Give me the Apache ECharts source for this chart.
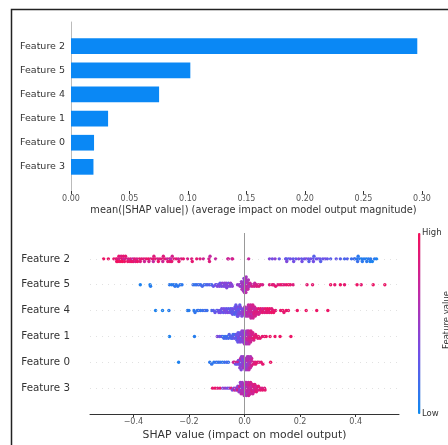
<!DOCTYPE html>
<html><head><meta charset="utf-8">
<script src="https://cdn.jsdelivr.net/npm/echarts@6/dist/echarts.min.js"></script>
<style>html,body{margin:0;padding:0;background:#fff}#c{width:448px;height:445px}</style>
</head><body><div id="c"></div>
<script>
// ---- data ----
const features = ['Feature 2','Feature 5','Feature 4','Feature 1','Feature 0','Feature 3'];
const meanAbsShap = [0.296, 0.102, 0.0753, 0.0317, 0.0197, 0.0192];
const barTicks = [0, 0.05, 0.10, 0.15, 0.20, 0.25, 0.30];
const shapTicks = [-0.4, -0.2, 0, 0.2, 0.4];
// [shap value, normalized feature value]
const shapF2 = [[-0.507,.95],[-0.49,.95],[-0.47,.9],[-0.462,.95],[-0.46,.9],[-0.458,.85],[-0.456,1],[-0.452,.9],[-0.45,.8],[-0.448,.95],
[-0.444,.85],[-0.442,.9],[-0.44,1],[-0.436,.9],[-0.434,.75],[-0.432,.95],[-0.428,.9],[-0.425,.85],[-0.42,.95],[-0.418,.8],
[-0.412,.9],[-0.41,.85],[-0.405,.95],[-0.402,.7],[-0.4,.9],[-0.395,.9],[-0.392,.85],[-0.387,.8],[-0.385,.95],[-0.378,.9],
[-0.375,.85],[-0.37,.9],[-0.362,.85],[-0.36,.75],[-0.354,.9],[-0.346,.95],[-0.344,.8],[-0.338,.85],[-0.33,.9],[-0.328,.7],
[-0.326,.85],[-0.32,.9],[-0.312,.8],[-0.31,.95],[-0.304,.85],[-0.296,.9],[-0.294,.75],[-0.292,.85],[-0.286,.9],[-0.278,.7],
[-0.276,.9],[-0.27,.85],[-0.268,.9],[-0.266,.65],[-0.262,.9],[-0.26,.8],[-0.254,.85],[-0.246,.9],[-0.238,.75],[-0.236,.9],
[-0.228,.85],[-0.22,.9],[-0.205,.8],[-0.19,.85],[-0.188,.9],[-0.172,.9],[-0.16,.85],[-0.148,.75],[-0.128,.8],[-0.126,.85],
[-0.124,.7],[-0.104,.7],[-0.06,.7],[-0.058,.75],[-0.045,.65],[-0.043,.8],[0.015,.7],
[0.09,.4],[0.1,.35],[0.11,.45],[0.125,.3],[0.148,.35],[0.15,.3],[0.152,.4],[0.158,.25],[0.165,.35],[0.175,.3],[0.177,.35],
[0.185,.3],[0.195,.4],[0.205,.3],[0.207,.35],[0.215,.3],[0.222,.4],[0.23,.3],[0.232,.25],[0.238,.35],[0.246,.3],[0.248,.35],
[0.25,.25],[0.258,.3],[0.265,.35],[0.272,.3],[0.274,.25],[0.282,.3],[0.29,.35],[0.298,.3],[0.31,.25],[0.33,.3],[0.345,.25],
[0.36,.2],[0.37,.25],[0.385,.15],[0.395,.2],[0.397,.15],[0.405,.1],[0.407,.15],[0.409,.1],[0.415,.1],[0.422,.05],[0.424,.1],
[0.43,.1],[0.438,.05],[0.44,.1],[0.446,.1],[0.452,.05],[0.454,.1],[0.46,.05],[0.468,.1],[0.475,.05]];
const shapF5 = [[-0.375,.05],[-0.34,.05],[-0.338,.08],[-0.27,.1],[-0.262,.08],[-0.255,.1],[-0.25,.12],[-0.246,.1],[-0.24,.1],[-0.232,.12],
[-0.225,.1],[-0.185,.15],[-0.178,.12],[-0.172,.15],[-0.165,.18],[-0.158,.15],[-0.152,.2],[-0.145,.18],[-0.138,.2],[-0.132,.22],
[-0.125,.25],[-0.118,.2],[-0.112,.3],[-0.104,.35],[-0.1,.3],[-0.098,.4],[-0.092,.35],[-0.09,.4],[-0.088,.3],[-0.084,.4],
[-0.082,.35],[-0.08,.45],[-0.078,.4],[-0.074,.4],[-0.072,.45],[-0.07,.35],[-0.068,.4],[-0.066,.45],[-0.064,.4],[-0.062,.45],
[-0.06,.4],[-0.058,.35],[-0.055,.45],[-0.052,.4],[-0.05,.5],[-0.046,.4],[-0.044,.45],[-0.025,.5],[-0.018,.5],[-0.016,.55],
[-0.014,.45],[-0.01,.5],[-0.009,.55],[-0.008,.45],[-0.007,.6],[-0.006,.5],[-0.005,.55],[-0.003,.55],[-0.002,.5],[-0.001,.6],
[0,.45],[0.001,.55],[0.002,.65],[0.003,.5],[0.004,.6],[0.005,.55],[0.006,.65],[0.007,.5],[0.01,.6],[0.011,.7],[0.012,.55],
[0.013,.65],[0.017,.7],[0.018,.6],[0.02,.75],[0.025,.7],[0.027,.8],[0.033,.75],[0.035,.8],[0.037,.7],[0.042,.8],[0.044,.85],
[0.05,.8],[0.052,.85],[0.058,.85],[0.065,.8],[0.09,.85],[0.1,.9],[0.105,.85],[0.112,.9],[0.12,.85],[0.128,.9],[0.135,.9],
[0.142,.85],[0.15,.9],[0.158,.95],[0.165,.9],[0.175,.85],[0.225,.9],[0.245,.9],[0.31,.95],[0.325,.9],[0.345,.95],[0.36,.9],
[0.405,.95],[0.42,.9],[0.463,.95],[0.505,.95],
[-0.011,.5],[-0.009,.6],[-0.004,.55],[-0.002,.45],[0,.6],[0.001,.5],[0.003,.6],[0.005,.65],[0.006,.55],[0.009,.6],[0.012,.7],[0.014,.6]];
const shapF4 = [[-0.32,.05],[-0.295,.05],[-0.272,.08],[-0.205,.1],[-0.2,.08],[-0.182,.1],[-0.178,.12],[-0.17,.1],[-0.165,.15],[-0.158,.12],
[-0.15,.15],[-0.142,.18],[-0.135,.15],[-0.118,.2],[-0.112,.25],[-0.106,.3],[-0.1,.25],[-0.096,.3],[-0.092,.35],[-0.088,.3],
[-0.086,.35],[-0.082,.35],[-0.08,.3],[-0.076,.3],[-0.074,.35],[-0.072,.4],[-0.068,.35],[-0.066,.3],[-0.062,.35],[-0.06,.4],
[-0.058,.3],[-0.054,.3],[-0.052,.35],[-0.05,.25],[-0.046,.3],[-0.045,.25],[-0.044,.35],[-0.043,.3],[-0.038,.25],[-0.037,.3],
[-0.036,.35],[-0.035,.2],[-0.034,.3],[-0.03,.3],[-0.029,.25],[-0.028,.35],[-0.027,.3],[-0.026,.4],[-0.025,.25],[-0.022,.3],
[-0.021,.35],[-0.02,.25],[-0.019,.4],[-0.018,.3],[-0.014,.35],[-0.013,.4],[-0.012,.3],[-0.011,.45],[-0.006,.45],[-0.005,.5],
[-0.004,.4],[0.002,.5],[0.003,.6],[0.004,.55],[0.008,.6],[0.009,.65],[0.01,.55],[0.011,.7],[0.012,.6],[0.016,.65],[0.017,.7],
[0.018,.75],[0.019,.6],[0.02,.7],[0.021,.8],[0.024,.7],[0.025,.75],[0.026,.8],[0.027,.65],[0.028,.75],[0.029,.7],[0.032,.75],
[0.033,.8],[0.034,.7],[0.035,.85],[0.036,.75],[0.04,.8],[0.041,.85],[0.042,.75],[0.043,.8],[0.048,.8],[0.049,.85],[0.05,.9],
[0.051,.8],[0.056,.85],[0.057,.8],[0.058,.9],[0.064,.85],[0.065,.9],[0.066,.8],[0.072,.9],[0.073,.85],[0.074,.9],[0.08,.85],
[0.081,.9],[0.082,.95],[0.088,.9],[0.089,.85],[0.09,.95],[0.096,.9],[0.097,.95],[0.098,.85],[0.104,.9],[0.105,.95],[0.112,.9],
[0.13,.9],[0.138,.95],[0.142,.9],[0.15,.95],[0.158,.9],[0.19,.95],[0.222,.95],[0.26,.95],[0.3,.95],
[-0.031,.3],[-0.024,.35],[-0.017,.3],[-0.015,.4],[-0.009,.4],[-0.002,.5],[0,.55],[0.001,.6],[0.006,.6],[0.013,.65],[0.014,.7],
[0.022,.75],[0.023,.7],[0.03,.8],[0.031,.75],[0.038,.8]];
const shapF1 = [[-0.27,.05],[-0.18,.08],[-0.098,.4],[-0.09,.35],[-0.084,.3],[-0.078,.15],[-0.074,.2],[-0.07,.15],[-0.066,.2],[-0.062,.15],
[-0.058,.2],[-0.055,.25],[-0.052,.2],[-0.048,.2],[-0.046,.25],[-0.043,.25],[-0.041,.2],[-0.038,.25],[-0.036,.3],[-0.034,.2],
[-0.03,.3],[-0.029,.25],[-0.028,.35],[-0.027,.3],[-0.023,.3],[-0.022,.35],[-0.021,.4],[-0.02,.3],[-0.019,.35],[-0.015,.35],
[-0.014,.4],[-0.013,.3],[-0.012,.45],[-0.011,.35],[-0.01,.4],[-0.007,.4],[-0.006,.45],[-0.005,.5],[-0.004,.4],[-0.003,.45],
[-0.002,.5],[0.001,.5],[0.002,.55],[0.003,.6],[0.004,.5],[0.005,.65],[0.006,.55],[0.007,.6],[0.009,.6],[0.01,.65],[0.011,.7],
[0.012,.6],[0.013,.75],[0.014,.7],[0.017,.7],[0.018,.75],[0.019,.8],[0.02,.7],[0.021,.75],[0.025,.8],[0.026,.75],[0.027,.85],
[0.028,.8],[0.033,.8],[0.034,.85],[0.035,.9],[0.04,.85],[0.042,.9],[0.048,.85],[0.05,.9],[0.056,.9],[0.064,.9],[0.072,.9],
[0.078,.95],[0.092,.95],[0.11,.95],[0.128,.95],[0.167,.95],
[-0.024,.3],[-0.016,.4],[-0.009,.45],[-0.001,.5],[0,.55],[0.008,.6],[0.015,.7],[0.016,.65],[0.022,.75],[0.023,.8],[0.03,.8]];
const shapF0 = [[-0.237,.05],[-0.125,.1],[-0.118,.12],[-0.11,.1],[-0.102,.15],[-0.095,.12],[-0.088,.15],[-0.08,.1],[-0.072,.15],[-0.064,.2],
[-0.058,.15],[-0.04,.7],[-0.036,.8],[-0.032,.3],[-0.028,.75],[-0.026,.35],[-0.022,.4],[-0.021,.8],[-0.02,.35],[-0.016,.4],
[-0.015,.45],[-0.014,.7],[-0.013,.35],[-0.01,.4],[-0.009,.5],[-0.008,.45],[-0.007,.35],[-0.006,.55],[-0.004,.45],[-0.003,.5],
[-0.002,.4],[-0.001,.55],[0,.45],[0.001,.5],[0.003,.5],[0.004,.45],[0.005,.55],[0.006,.4],[0.007,.6],[0.008,.5],[0.01,.55],
[0.011,.6],[0.012,.5],[0.013,.65],[0.014,.55],[0.017,.6],[0.018,.7],[0.019,.55],[0.02,.65],[0.024,.7],[0.025,.8],[0.026,.75],
[0.031,.8],[0.032,.85],[0.038,.85],[0.04,.9],[0.046,.9],[0.052,.85],[0.06,.9],[0.066,.9],[0.094,.95],
[-0.011,.45],[-0.005,.5],[0.002,.5],[0.009,.55],[0.015,.6],[0.016,.65],[0.021,.7],[0.022,.6],[-0.012,.4],[-0.017,.45]];
const shapF3 = [[-0.115,.9],[-0.106,.95],[-0.097,.85],[-0.088,.9],[-0.078,.4],[-0.07,.5],[-0.062,.35],[-0.055,.45],[-0.048,.85],[-0.044,.4],
[-0.038,.45],[-0.036,.8],[-0.032,.5],[-0.03,.4],[-0.026,.55],[-0.025,.85],[-0.024,.45],[-0.02,.5],[-0.019,.6],[-0.018,.45],
[-0.017,.8],[-0.014,.55],[-0.013,.5],[-0.012,.65],[-0.011,.45],[-0.01,.6],[-0.007,.5],[-0.006,.6],[-0.005,.55],[-0.004,.65],
[-0.003,.45],[-0.002,.6],[0,.6],[0.001,.55],[0.002,.7],[0.003,.5],[0.004,.65],[0.005,.6],[0.008,.65],[0.009,.6],[0.01,.7],
[0.011,.75],[0.012,.65],[0.013,.7],[0.016,.7],[0.017,.75],[0.018,.65],[0.019,.8],[0.02,.7],[0.024,.75],[0.025,.8],[0.026,.7],
[0.027,.85],[0.028,.75],[0.032,.8],[0.033,.75],[0.034,.85],[0.035,.8],[0.04,.8],[0.041,.85],[0.042,.75],[0.043,.9],[0.048,.85],
[0.049,.8],[0.05,.9],[0.056,.85],[0.057,.9],[0.063,.8],[0.065,.9],[0.072,.85],[0.074,.9],
[-0.008,.55],[-0.001,.6],[0.006,.65],[0.007,.6],[0.014,.7],[0.015,.75],[0.021,.75],[0.022,.8],[0.029,.8],[0.03,.75],[0.037,.85],[-0.015,.5]];
const shapRows = [shapF2, shapF5, shapF4, shapF1, shapF0, shapF3];

// ---- beeswarm layout (shap-style binning) ----
function swarm(vals, row) {
  const xs = vals.map(v => v[0]);
  const mn = Math.min(...xs);
  const bw = 0.008;
  const q = xs.map(x => Math.floor((x - mn) / bw + 1e-9));
  const idx = xs.map((_, i) => i).sort((a, b) => q[a] - q[b] || a - b);
  const ys = new Array(xs.length).fill(0);
  let layer = 0, last = -1;
  for (const i of idx) {
    if (q[i] !== last) layer = 0;
    ys[i] = Math.ceil(layer / 2) * ((layer % 2) * 2 - 1);
    layer++; last = q[i];
  }
  const m = Math.max(...ys);
  const s = Math.min(0.9 * 0.4 / (m + 1), 0.1);
  return vals.map((v, i) => [v[0], row + ys[i] * s, v[1]]);
}
const swarmData = [];
shapRows.forEach((r, i) => swarmData.push(...swarm(r, i)));

const barCats = [''].concat(features, ['']);
const barVals = ['-'].concat(meanAbsShap, ['-']);
const FONT = 'DejaVu Sans';

const chart = echarts.init(document.getElementById('c'), null, {renderer: 'canvas'});
chart.setOption({
  animation: false,
  backgroundColor: '#fff',
  textStyle: {fontFamily: FONT},
  grid: [
    {left: 71, right: 12, top: 22, bottom: 254},
    {left: 90, right: 49, top: 233, bottom: 31}
  ],
  xAxis: [
    {gridIndex: 0, type: 'value', min: 0, max: 0.312,
     axisLine: {onZero: false, lineStyle: {color: '#333', width: 1}},
     axisTick: {show: true, length: 3, lineStyle: {color: '#333'}, customValues: barTicks},
     axisLabel: {fontFamily: FONT, fontSize: 8, color: '#555', margin: 4, customValues: barTicks,
                 formatter: v => v.toFixed(2)},
     splitLine: {show: false},
     name: 'mean(|SHAP value|) (average impact on model output magnitude)',
     nameLocation: 'middle', nameGap: 14,
     nameTextStyle: {fontFamily: FONT, fontSize: 9.8, color: '#333'}},
    {gridIndex: 1, type: 'value', min: -0.556, max: 0.556,
     axisLine: {onZero: false, lineStyle: {color: '#333', width: 1}},
     axisTick: {show: true, length: 3, lineStyle: {color: '#333'}, customValues: shapTicks},
     axisLabel: {fontFamily: FONT, fontSize: 8, color: '#555', margin: 4, customValues: shapTicks,
                 formatter: v => (v < 0 ? '\u2212' : '') + Math.abs(v).toFixed(1)},
     splitLine: {show: false},
     name: 'SHAP value (impact on model output)',
     nameLocation: 'middle', nameGap: 16,
     nameTextStyle: {fontFamily: FONT, fontSize: 10.8, color: '#333'}}
  ],
  yAxis: [
    {gridIndex: 0, type: 'category', data: barCats, inverse: true, boundaryGap: false,
     axisLine: {lineStyle: {color: '#bbb', width: 1}},
     axisTick: {show: false},
     axisLabel: {fontFamily: FONT, fontSize: 9.5, color: '#333', margin: 6}},
    {gridIndex: 1, type: 'value', min: -1, max: 6, interval: 1, inverse: true,
     axisLine: {show: false}, axisTick: {show: false}, splitLine: {show: false},
     axisLabel: {fontFamily: FONT, fontSize: 10.3, color: '#333', margin: 20,
                 formatter: v => features[v] || ''}}
  ],
  visualMap: {
    type: 'continuous', seriesIndex: 2, dimension: 2, min: 0, max: 1,
    calculable: false, show: true, left: 418, top: 233, padding: 0,
    itemWidth: 2.5, itemHeight: 181,
    inRange: {color: ['#0d8bf0', '#7050e8', '#c02aa8', '#f5105a']}
  },
  series: [
    {type: 'bar', xAxisIndex: 0, yAxisIndex: 0, data: barVals, barWidth: '65%',
     itemStyle: {color: '#0a88f5'}, silent: true},
    {type: 'line', xAxisIndex: 1, yAxisIndex: 1, data: [], z: 1, silent: true,
     markLine: {silent: true, symbol: 'none', label: {show: false}, animation: false,
       data: features.map((f, i) => ({yAxis: i, lineStyle: {color: '#ccc', width: 0.6, type: [1, 5]}}))
         .concat([{xAxis: 0, lineStyle: {color: '#999', width: 1, type: 'solid'}}])}},
    {type: 'scatter', xAxisIndex: 1, yAxisIndex: 1, data: swarmData, symbolSize: 3.4, z: 3, silent: true,
     itemStyle: {opacity: 1}}
  ],
  graphic: [
    {type: 'rect', shape: {x: 11.5, y: 9.5, width: 600, height: 600}, style: {fill: 'none', stroke: '#222', lineWidth: 1.5}, silent: true},
    {type: 'text', x: 422, y: 233, style: {text: 'High', font: '8.5px "DejaVu Sans"', fill: '#333', textVerticalAlign: 'middle'}},
    {type: 'text', x: 422, y: 414, style: {text: 'Low', font: '8.5px "DejaVu Sans"', fill: '#333', textVerticalAlign: 'middle'}},
    {type: 'text', x: 447, y: 320, rotation: Math.PI / 2,
     style: {text: 'Feature value', font: '8.5px "DejaVu Sans"', fill: '#333', textAlign: 'center', textVerticalAlign: 'middle'}}
  ]
});
</script></body></html>
